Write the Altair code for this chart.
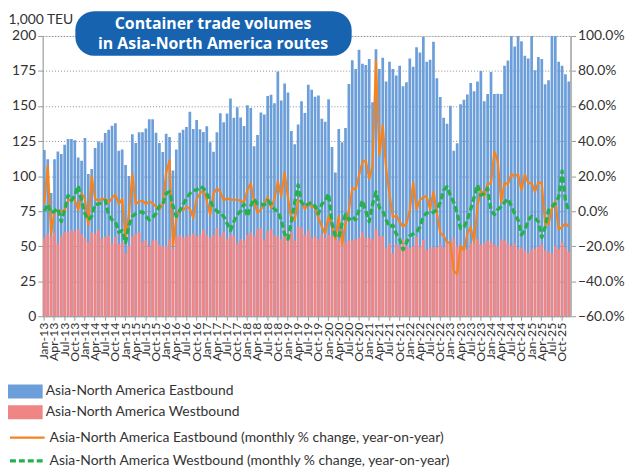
import altair as alt
import pandas as pd

years = list(range(2013, 2026))
mon = ["Jan", "Feb", "Mar", "Apr", "May", "Jun", "Jul", "Aug", "Sep", "Oct", "Nov", "Dec"]
months = [f"{m}-{str(y)[2:]}" for y in years for m in mon]
tick_labels = months[::3]

# 1,000 TEU
eastbound = [
    118.7, 112.0, 88.0, 112.0, 117.5, 115.7, 122.3, 126.5, 126.5, 125.6, 113.3, 111.0,
    127.2, 101.5, 105.0, 120.0, 124.6, 124.0, 130.7, 133.0, 135.9, 137.8, 118.0, 119.0,
    108.0, 100.0, 129.8, 123.7, 131.2, 131.2, 134.0, 140.6, 140.6, 131.0, 123.6, 117.2,
    130.2, 127.9, 104.0, 119.0, 131.0, 133.0, 135.0, 146.0, 133.6, 140.0, 133.5, 131.4,
    135.5, 124.2, 117.3, 131.2, 144.9, 138.5, 144.7, 155.3, 141.6, 149.1, 141.8, 135.7,
    150.5, 148.6, 121.3, 129.3, 145.4, 144.0, 157.1, 158.0, 151.9, 174.6, 153.9, 166.1,
    159.7, 132.2, 122.7, 136.9, 153.4, 145.1, 165.2, 161.6, 156.6, 157.6, 140.9, 138.7,
    154.8, 120.8, 102.5, 133.6, 124.1, 134.3, 165.8, 182.6, 176.4, 190.1, 180.2, 179.3,
    183.5, 152.7, 190.6, 176.4, 184.5, 167.5, 181.6, 176.4, 171.7, 178.8, 164.2, 167.0,
    184.0, 178.0, 192.0, 188.2, 199.5, 181.6, 183.0, 195.8, 169.8, 156.5, 141.6, 137.3,
    150.2, 118.0, 123.5, 151.2, 154.4, 158.3, 166.5, 160.6, 167.5, 175.0, 153.4, 158.5,
    174.3, 158.5, 158.8, 158.5, 178.8, 182.5, 204.0, 192.4, 204.0, 196.2, 185.9, 184.0,
    204.0, 175.5, 185.0, 183.5, 165.6, 168.4, 205.0, 205.0, 181.6, 178.8, 172.6, 167.5,
]
westbound = [
    56.0, 59.0, 57.0, 60.0, 52.0, 57.0, 60.0, 60.0, 61.5, 60.5, 62.0, 58.7,
    55.6, 53.0, 60.0, 58.7, 61.5, 55.4, 56.8, 57.7, 52.0, 56.8, 51.6, 52.5,
    45.0, 50.0, 57.0, 59.0, 60.0, 53.0, 54.0, 50.0, 54.0, 54.0, 51.0, 50.0,
    50.0, 55.0, 48.0, 57.0, 58.0, 56.0, 57.0, 58.0, 59.0, 57.0, 58.0, 62.0,
    58.0, 56.0, 58.0, 63.0, 57.0, 60.0, 55.0, 58.0, 57.0, 52.0, 55.0, 54.0,
    58.0, 60.0, 57.0, 62.0, 63.0, 55.0, 61.0, 62.0, 58.0, 57.0, 55.0, 62.0,
    58.0, 60.0, 54.0, 64.0, 63.0, 58.0, 61.0, 56.0, 57.0, 55.0, 58.0, 56.0,
    58.0, 57.0, 56.0, 54.0, 55.0, 53.0, 54.0, 54.0, 55.0, 56.0, 60.0, 56.0,
    56.0, 55.0, 62.0, 57.0, 57.0, 49.0, 52.0, 45.0, 51.0, 50.0, 55.0, 50.0,
    48.5, 50.0, 56.8, 50.0, 54.4, 47.3, 49.0, 49.0, 49.0, 51.0, 49.0, 52.0,
    51.0, 55.6, 50.0, 51.0, 49.0, 47.8, 52.0, 52.0, 55.0, 51.0, 52.0, 54.0,
    53.0, 51.0, 50.0, 55.0, 54.0, 52.0, 50.0, 52.0, 48.0, 49.0, 47.0, 45.0,
    48.0, 48.0, 50.0, 51.0, 47.0, 46.0, 45.0, 50.0, 48.0, 53.0, 49.0, 46.0,
]
# % change, year-on-year
east_yoy = [
    4, 26, -13, 0, 0.5, 0, 0.5, 6, 7, 6.5, 0.5, 10,
    7, -8, 20, 7, 6, 7, 7, 5, 7.5, 9.5, 4, 7,
    -15, -1.5, 21, 4, 5.5, 6, 4, 5.5, 4.5, 2.5, 1, 4,
    22, 29, -20, -4, 1.5, 0.5, 2.5, 1.5, -4, 7, 10, 12,
    6, -2, 10, 13, 11, 6, 7.5, 6.5, 6.5, 6.5, 6, 5,
    12, 16, 5, -1, 1, 4, 8, 2, 7, 17, 8.5, 22,
    8, -5, -5, 6, 5.5, 1, 5, 2.5, 2, -4, -9, -13,
    -3, -9, -16, -3, -19, -7, 0.5, 13, 12.5, 20.5, 28, 29,
    18.5, 26, 86, 32, 49, 24.5, 9.5, -3.5, -2.5, -6, -9, -7,
    0.5, 16.5, 1, 6.5, 8, 8.5, 1, 11, -1, -12.5, -14, -18,
    -18, -34, -36, -20, -22.5, -13, -9, -18, 3, 12, 8.5, 15.5,
    16, 34, 28.5, 5, 16, 15.5, 21, 20, 21, 12, 21, 16,
    16, 11, 16.5, 16, -7.5, -7.5, 1.5, 5.5, -10.5, -9, -7, -9,
]
west_yoy = [
    0, 4, -1, 0, 1.5, -6, 0.5, 9, 6, 9, 14.5, 6,
    -1.5, -5, -3, 4, 4, 5, 6, -2, -5, -6, -12, -11,
    -18, -8, -3, -1.5, -0.5, -0.5, -3, -5, -3.5, -1.5, 3, 4,
    10, 11, 3, -3, 0, 4, 7, 10, 12, 12, 14, 13,
    10, 6, 2, 0, -1, -3, -7, -11, -6, -2, 0, 4,
    -3, 3, 7, 4, 4, 3.5, 6, 4, 1, 0, -5, -13,
    -16, -6, 5, 15, 5, 3, 4, 5, 3, -1.5, 4, 6,
    10, -7, -14, -15, -7, -2, -5, -3, -5, 0.5, 6, 0,
    -6, 4, 11, 2, 0, -5, -9, -8, -13, -16, -22, -18,
    -14, -13, -12, -9, -3, -1, -1.5, -0.5, 0.5, 5, 12, 14,
    9, 5, -1, -10, -9, -5, 1, 8, 15, 9, 10, 13,
    0.5, -2, 1, 2.5, 5, 7, 3, -1.5, -5, -13.5, -11, -5,
    -3, -4, -6, -15, -9, 0.5, 2.5, 4.5, 8, 23, 6, 0,
]

EB = "Asia-North America Eastbound"
WB = "Asia-North America Westbound"
EBP = "Asia-North America Eastbound (monthly % change, year-on-year)"
WBP = "Asia-North America Westbound (monthly % change, year-on-year)"
BLUE, RED, ORANGE, GREEN = "#6c9fd9", "#f08585", "#f5831f", "#27b14a"
FONT = "Lato"
TXT = "#333333"

n = len(months)
bars_df = pd.DataFrame({
    "month": months * 2,
    "series": [EB] * n + [WB] * n,
    "value": eastbound + westbound,
})
lines_df = pd.DataFrame({
    "month": months * 2,
    "series": [EBP] * n + [WBP] * n,
    "pct": east_yoy + west_yoy,
})

x_enc = alt.X(
    "month:O", sort=months,
    scale=alt.Scale(domain=months, paddingInner=0.2, paddingOuter=0.1),
    axis=alt.Axis(values=tick_labels, labelAngle=-90, title=None, labelFontSize=12.5,
                  labelColor=TXT, labelFont=FONT, tickColor="#999999", tickSize=4,
                  domainColor="#999999", labelOverlap=False, labelPadding=2),
)

legend_common = dict(orient="none", legendX=-35, title=None, labelFontSize=14,
                     labelColor=TXT, labelFont=FONT, labelLimit=600, rowPadding=7,
                     symbolOffset=0, padding=0, labelOffset=24, direction="vertical",
                     symbolSize=196)

fill_enc = alt.Fill(
    "series:N", scale=alt.Scale(domain=[EB, WB], range=[BLUE, RED]),
    legend=alt.Legend(legendY=352, symbolType="M-1,-1H4V1H-1Z",
                      symbolStrokeWidth=0, symbolOpacity=1, **legend_common),
)
y_bar = alt.Y(
    "value:Q", scale=alt.Scale(domain=[0, 200]),
    axis=alt.Axis(values=list(range(0, 201, 25)), title="1,000 TEU", titleAngle=0,
                  titleX=-35, titleY=-17, titleAlign="left", titleBaseline="middle",
                  titleFontWeight="normal", titleFontSize=14, titleColor=TXT, titleFont=FONT,
                  labelFontSize=14, labelColor=TXT, labelFont=FONT, tickColor="#999999",
                  tickSize=5, domainColor="#999999", grid=True, gridDash=[1, 2],
                  gridColor="#8c8c8c", labelPadding=2),
)

base_bars = alt.Chart(bars_df)
blue = base_bars.transform_filter(alt.datum.series == EB).mark_bar(clip=True).encode(
    x=x_enc, y=y_bar, fill=fill_enc)
red = base_bars.transform_filter(alt.datum.series == WB).mark_bar(clip=True).encode(
    x=x_enc, y=y_bar, fill=fill_enc)
bars = alt.layer(blue, red)

line_legend = alt.Legend(legendY=397, symbolType="M-1,0H4",
                         symbolStrokeWidth=3, **legend_common)
lines = alt.Chart(lines_df).mark_line(strokeJoin="round").encode(
    x=x_enc,
    y=alt.Y("pct:Q", scale=alt.Scale(domain=[-60, 100]),
            axis=alt.Axis(orient="right", values=list(range(-60, 101, 20)),
                          labelExpr="format(datum.value, '.1f') + '%'", title=None,
                          grid=False, domainColor="#b5b5b5", domainWidth=2,
                          tickColor="#999999", tickSize=5, labelFontSize=14,
                          labelColor=TXT, labelFont=FONT, labelPadding=2)),
    stroke=alt.Stroke("series:N", scale=alt.Scale(domain=[EBP, WBP], range=[ORANGE, GREEN]),
                      legend=line_legend),
    strokeDash=alt.StrokeDash("series:N", scale=alt.Scale(domain=[EBP, WBP], range=[[1, 0], [6, 3]]),
                              legend=line_legend),
    strokeWidth=alt.StrokeWidth("series:N", scale=alt.Scale(domain=[EBP, WBP], range=[2.2, 3.4]),
                                legend=None),
)

title_df = pd.DataFrame({"line": ["Container trade volumes", "in Asia-North America routes"]})
TFONT = "Open Sans"
box = alt.Chart(title_df.head(1)).mark_rect(color="#1763b0", cornerRadius=19).encode(
    x=alt.value(33), x2=alt.value(312), y=alt.value(-25), y2=alt.value(20))
t1 = alt.Chart(title_df.head(1)).mark_text(
    align="center", baseline="middle", fontSize=16, fontWeight="bold", color="white", font=TFONT
).encode(x=alt.value(172), y=alt.value(-12), text="line:N")
t2 = alt.Chart(title_df.tail(1)).mark_text(
    align="center", baseline="middle", fontSize=16, fontWeight="bold", color="white", font=TFONT
).encode(x=alt.value(172), y=alt.value(8), text="line:N")
title_layer = alt.layer(box, t1, t2)

chart = alt.layer(bars, lines, title_layer).resolve_scale(
    y="independent"
).properties(
    width=533, height=283,
    autosize=alt.AutoSizeParams(type="none"),
    padding={"left": 35, "top": 26, "right": 55, "bottom": 150},
    background="white",
).configure_view(stroke=None).configure(font=FONT)

chart.save("out.html", embed_options={"renderer": "svg", "actions": False})
